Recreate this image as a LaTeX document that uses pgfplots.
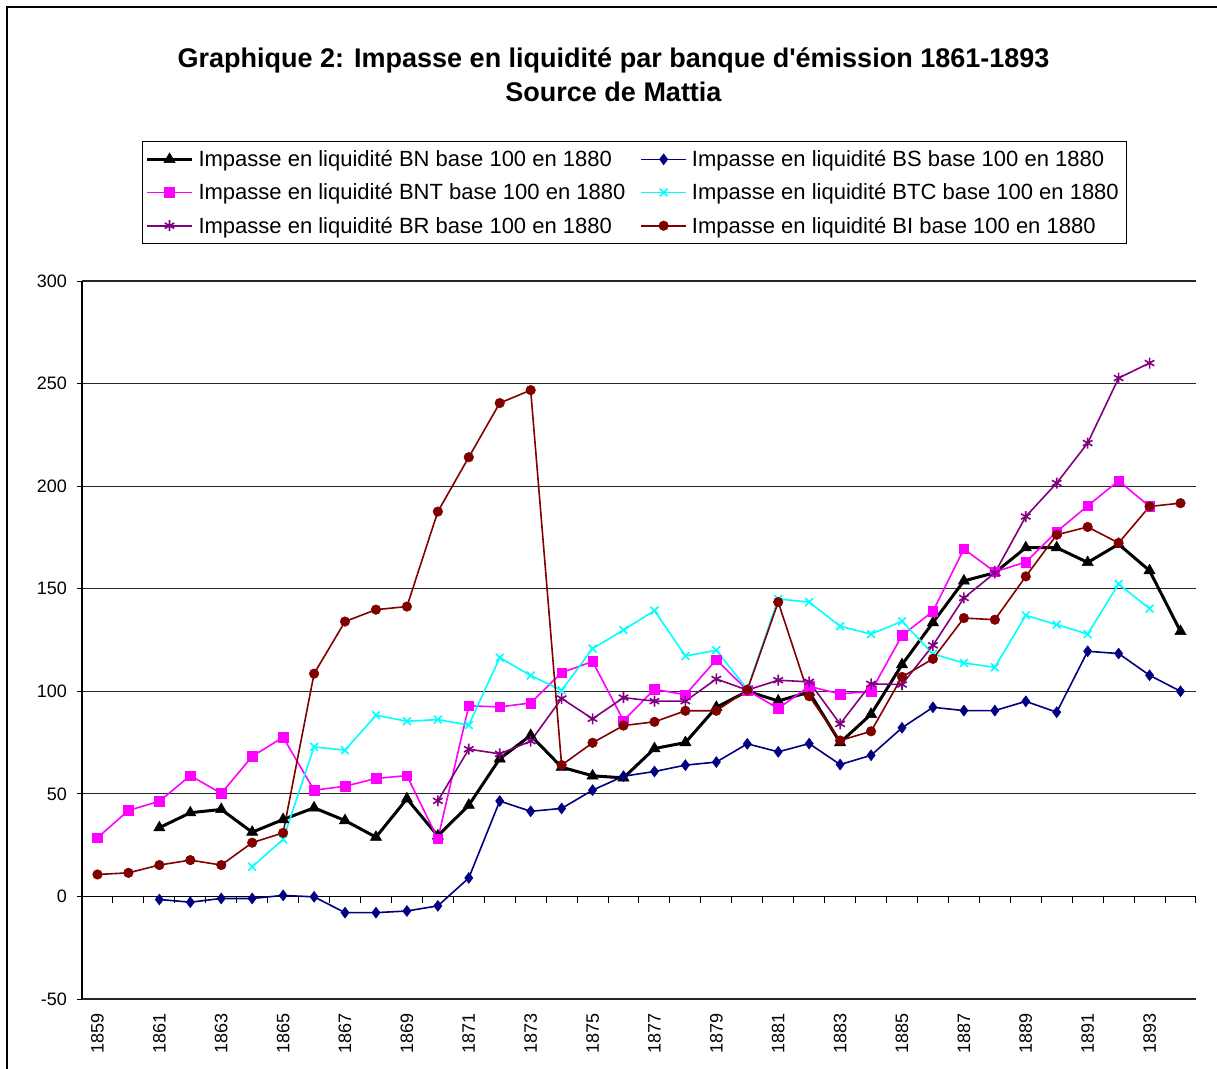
\documentclass[border=0pt]{standalone}
\usepackage{fontspec}
\setmainfont{Liberation Sans}
\usepackage{pgfplots}
\pgfplotsset{compat=1.18}

\definecolor{bsnavy}{RGB}{0,0,128}
\definecolor{bntmag}{RGB}{255,0,255}
\definecolor{btccyan}{RGB}{0,255,255}
\definecolor{brpurple}{RGB}{128,0,128}
\definecolor{bimaroon}{RGB}{128,0,0}

\newcommand\chartfont{\fontsize{18bp}{21bp}\selectfont}
\newcommand\legfont{\fontsize{22bp}{25bp}\selectfont}
\newcommand\titlefont{\fontsize{27bp}{31bp}\selectfont\bfseries}

\begin{document}
\begin{tikzpicture}
\useasboundingbox (0,0) rectangle (1217bp,-1069bp);
\draw[line width=1.2bp] (7bp,-1090bp) -- (7bp,-7bp) -- (1240bp,-7bp);
\node[font=\titlefont] at (613.5bp,-60bp)
  {Graphique 2: Impasse en liquidité par banque d\textquotesingle émission 1861-1893};
\node[font=\titlefont] at (613.5bp,-92bp)
  {Source de Mattia};

\begin{axis}[
    at={(82bp,-281bp)}, anchor=north west,
    scale only axis,
    width=1114bp, height=718bp,
    xmin=-0.5, xmax=35.5,
    ymin=-50, ymax=300,
    ytick={-50,0,...,300},
    xtick={0,2,...,34},
    xticklabels={1859,1861,1863,1865,1867,1869,1871,1873,1875,1877,1879,1881,1883,1885,1887,1889,1891,1893},
    axis y line*=left,
    axis x line*=bottom,
    x axis line style={draw=none},
    y axis line style={line width=1.2bp},
    xtick style={draw=none},
    ytick style={line width=1bp, black},
    tick align=outside,
    major tick length=5bp,
    ymajorgrids=true,
    grid style={line width=1.2bp, black!85},
    /pgf/number format/assume math mode=true,
    yticklabel style={font=\chartfont, inner sep=0pt},
    yticklabel shift=10bp,
    xticklabel style={font=\chartfont, rotate=90, anchor=east, inner sep=0pt},
    xticklabel shift=9bp,
    legend columns=2,
    legend cell align=left,
    legend style={at={(axis description cs:0.0539,1.195)}, anchor=north west,
        draw=black, line width=1bp, font=\legfont,
        inner xsep=3bp, inner ysep=9bp, row sep=15.5bp,
        nodes={inner sep=0pt, inner xsep=5bp},
        /tikz/every even column/.append style={column sep=10bp}},
    legend image code/.code={\draw[mark repeat=2,mark phase=2,#1]
        plot coordinates {(0bp,0bp)(22.5bp,0bp)(45bp,0bp)};},
]
% x axis line through zero with tick marks between the years
\draw[line width=1.2bp] (axis cs:-0.5,0) -- (axis cs:35.5,0);
\pgfplotsinvokeforeach{0.5,1.5,...,35.5}{
  \draw[line width=1bp] (axis cs:#1,0) -- (axis cs:#1,-3);
}

\addplot[black, line width=3bp, mark=triangle*, mark size=6.5bp, mark options={solid, line width=0.5bp}]
coordinates {
(2,33.5)(3,40.8)(4,42.4)(5,31.3)(6,37.5)(7,43.2)(8,37.0)(9,28.9)(10,47.6)(11,29.5)
(12,44.5)(13,67.1)(14,78.5)(15,63.0)(16,58.8)(17,57.8)(18,72.1)(19,75.0)(20,92.2)(21,100)
(22,95.3)(23,99.6)(24,75.0)(25,88.8)(26,113)(27,133.5)(28,153.8)(29,157.8)(30,170)(31,170)
(32,162.8)(33,171.7)(34,158.8)(35,129.2)
};
\addlegendentry{Impasse en liquidité BN base 100 en 1880}

\addplot[bsnavy, line width=1.6bp, mark=diamond*, mark size=5.5bp, mark options={solid, line width=0.5bp}]
coordinates {
(2,-1.5)(3,-2.8)(4,-1.0)(5,-1.0)(6,0.5)(7,-0.2)(8,-7.9)(9,-7.9)(10,-7.1)(11,-4.6)
(12,9.0)(13,46.5)(14,41.5)(15,42.9)(16,51.8)(17,58.6)(18,60.9)(19,64.0)(20,65.5)(21,74.4)
(22,70.5)(23,74.5)(24,64.3)(25,68.8)(26,82.2)(27,92.2)(28,90.6)(29,90.6)(30,95.1)(31,89.8)
(32,119.5)(33,118.4)(34,107.8)(35,100)
};
\addlegendentry{Impasse en liquidité BS base 100 en 1880}

\addplot[bntmag, line width=1.6bp, mark=square*, mark size=4.8bp, mark options={solid, line width=0.5bp}]
coordinates {
(0,28.6)(1,41.9)(2,46.4)(3,58.9)(4,50.2)(5,68.3)(6,77.6)(7,51.8)(8,53.7)(9,57.5)
(10,58.9)(11,28.1)(12,92.9)(13,92.4)(14,94.3)(15,109.1)(16,114.5)(17,85.7)(18,101)(19,98.3)
(20,115.4)(21,100.5)(22,91.6)(23,102.4)(24,98.7)(25,100)(26,127.2)(27,139)(28,169.4)(29,158.2)
(30,163)(31,177.8)(32,190.4)(33,202.6)(34,190.1)
};
\addlegendentry{Impasse en liquidité BNT base 100 en 1880}

\addplot[btccyan, line width=1.6bp, mark=x, mark size=5.5bp, mark options={solid}]
coordinates {
(5,14.5)(6,27.8)(7,72.9)(8,71.3)(9,88.3)(10,85.4)(11,86.2)(12,83.5)(13,116.4)(14,107.7)
(15,100.5)(16,120.8)(17,129.9)(18,139.3)(19,117.2)(20,120)(21,101)(22,145)(23,143.5)(24,131.7)
(25,127.9)(26,134.1)(27,118.2)(28,113.8)(29,111.7)(30,137)(31,132.5)(32,127.9)(33,152.3)(34,140.3)
};
\addlegendentry{Impasse en liquidité BTC base 100 en 1880}

\addplot[brpurple, line width=1.6bp, mark=asterisk, mark size=5.5bp, mark options={solid}]
coordinates {
(11,46.6)(12,71.8)(13,69.5)(14,75.7)(15,96.5)(16,86.6)(17,96.9)(18,95.2)(19,95.2)(20,106)
(21,100.6)(22,105.4)(23,104.6)(24,84.1)(25,103.6)(26,103.3)(27,122.4)(28,145.5)(29,157.7)(30,185.2)
(31,201.5)(32,221)(33,252.7)(34,260)
};
\addlegendentry{Impasse en liquidité BR base 100 en 1880}

\addplot[bimaroon, line width=1.6bp, mark=*, mark size=4.8bp, mark options={solid, line width=0.5bp}]
coordinates {
(0,10.7)(1,11.5)(2,15.3)(3,17.7)(4,15.3)(5,26.2)(6,31)(7,108.6)(8,134)(9,139.8)
(10,141.3)(11,187.6)(12,214.1)(13,240.5)(14,246.8)(15,64)(16,74.9)(17,83.3)(18,85.1)(19,90.5)
(20,90.5)(21,100.6)(22,143.5)(23,97.6)(24,76)(25,80.5)(26,107)(27,115.8)(28,135.7)(29,134.9)
(30,156)(31,176.3)(32,180.1)(33,172.3)(34,190.1)(35,191.7)
};
\addlegendentry{Impasse en liquidité BI base 100 en 1880}
\end{axis}
\end{tikzpicture}
\end{document}
